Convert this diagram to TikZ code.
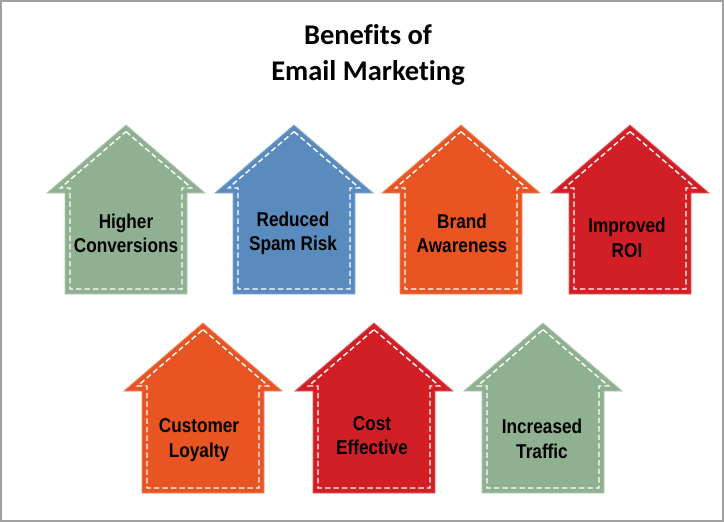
\documentclass[tikz,border=0pt]{standalone}
\usepackage{fontspec}
\setmainfont{Liberation Sans}
\newfontfamily\lblfont[FakeStretch=0.86]{Liberation Sans}
\newfontfamily\titlefont[Ligatures=NoCommon]{Carlito}
\definecolor{agreen}{HTML}{8FB191}
\definecolor{ablue}{HTML}{5A8BBE}
\definecolor{aorange}{HTML}{E85523}
\definecolor{ared}{HTML}{D21F26}
\definecolor{frame}{HTML}{A0A0A0}
\newcommand{\benefitarrow}[5]{%
  \filldraw[fill=#5, draw=#5!70!white, line width=0.8pt]
    ({#1},{#2}) -- ({#1+79},{#3}) -- ({#1+61},{#3}) -- ({#1+61},{#4})
    -- ({#1-61},{#4}) -- ({#1-61},{#3}) -- ({#1-79},{#3}) -- cycle;
  \draw[stitch]
    ({#1},{#2+6.6}) -- ({#1+79-13.5},{#3-5}) -- ({#1+56},{#3-5}) -- ({#1+56},{#4-5})
    -- ({#1-56},{#4-5}) -- ({#1-56},{#3-5}) -- ({#1-79+13.5},{#3-5}) -- cycle;
}
\begin{document}
\begin{tikzpicture}[x=1pt,y=-1pt,
  stitch/.style={draw=white, line width=1.4pt, dash pattern=on 5.5pt off 3pt},
  lbl/.style={font=\lblfont\bfseries\fontsize{20}{24}\selectfont, text=black, anchor=base, inner sep=0pt},
  ttl/.style={font=\titlefont\bfseries\fontsize{28.5}{34}\selectfont, text=black, anchor=base, inner sep=0pt}]
\useasboundingbox (0,0) rectangle (724,522);
\fill[white] (0,0) rectangle (724,522);
\draw[frame, line width=1.5pt] (0.75,0.75) rectangle (722.8,520.8);

\node[ttl] (title1) at (368,44) {Benefits of};
\node[ttl] (title2) at (368,80) {Email Marketing};

% row 1
\benefitarrow{126}{125}{193}{294}{agreen}
\benefitarrow{294}{125}{193}{294}{ablue}
\benefitarrow{461}{125}{193}{294}{aorange}
\benefitarrow{630}{125}{193}{294}{ared}
% row 2
\benefitarrow{203}{323}{391}{493}{aorange}
\benefitarrow{374}{323}{391}{493}{ared}
\benefitarrow{543}{323}{391}{493}{agreen}

\node[lbl] (a1l1) at (126,228) {Higher};
\node[lbl] (a1l2) at (126,252) {Conversions};
\node[lbl] (a2l1) at (293,226) {Reduced};
\node[lbl] (a2l2) at (293,250) {Spam Risk};
\node[lbl] (a3l1) at (462,228) {Brand};
\node[lbl] (a3l2) at (462,252) {Awareness};
\node[lbl] (a4l1) at (627,232) {Improved};
\node[lbl] (a4l2) at (627,257) {ROI};
\node[lbl] (a5l1) at (199,432) {Customer};
\node[lbl] (a5l2) at (199,457) {Loyalty};
\node[lbl] (a6l1) at (372,430) {Cost};
\node[lbl] (a6l2) at (372,454) {Effective};
\node[lbl] (a7l1) at (542,433) {Increased};
\node[lbl] (a7l2) at (542,458) {Traffic};
\end{tikzpicture}
\end{document}
